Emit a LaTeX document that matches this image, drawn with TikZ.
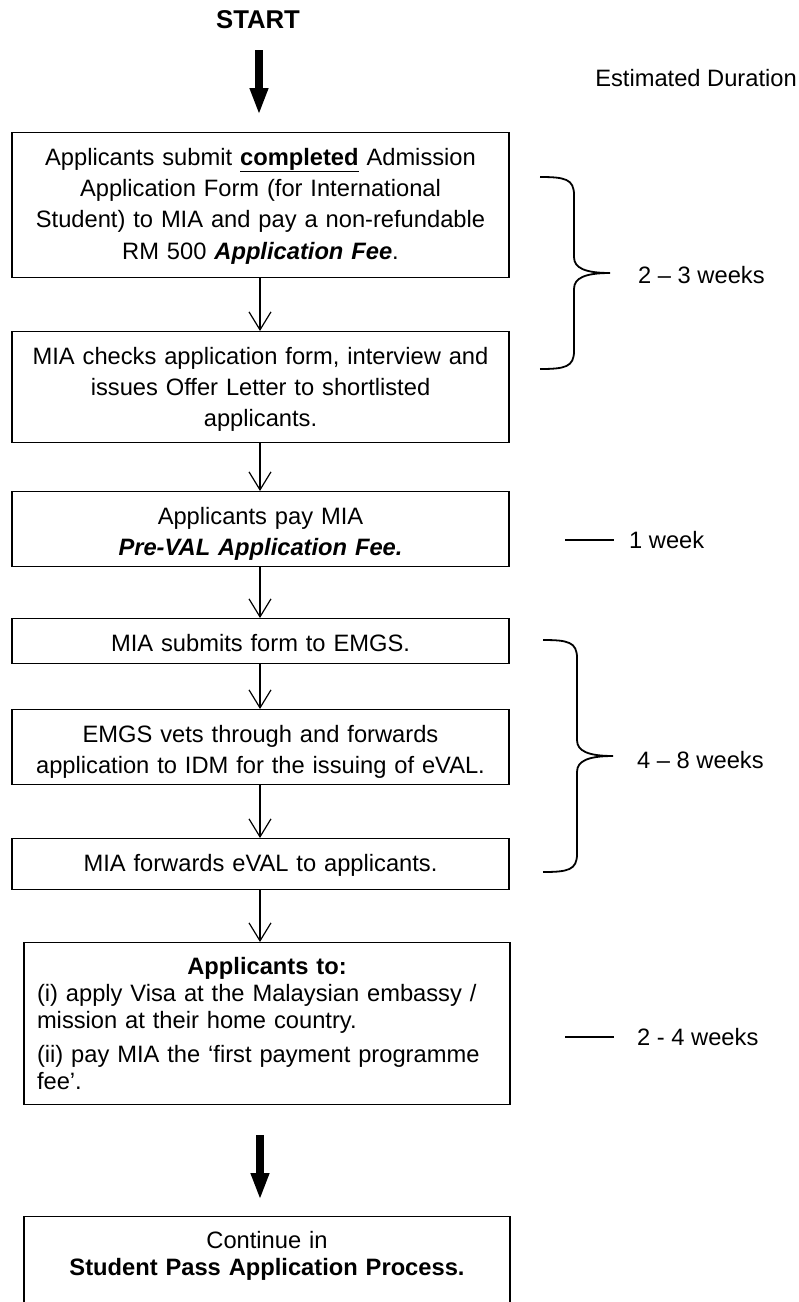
\documentclass[tikz,border=0pt]{standalone}
\usepackage{fontspec}
\setmainfont{Liberation Sans}
\usetikzlibrary{arrows.meta}
\begin{document}
\begin{tikzpicture}[x=1pt,y=-1pt,
  every node/.style={font=\fontsize{23.7}{27.3}\selectfont, inner sep=0pt},
  box/.style={draw, line width=1.2pt, anchor=north, align=center, text width=460pt, inner xsep=18.5pt, inner ysep=0pt, text height=32.5pt, font=\fontsize{23.7}{31.3}\selectfont},
  narrowbox/.style={box, inner xsep=13pt, text height=31.5pt, font=\fontsize{23.7}{27.3}\selectfont},
  flow/.style={line width=1.2pt, -{Straight Barb[length=18pt,width=22pt]}},
  bigflow/.style={line width=7.5pt, -{Triangle[length=27pt,width=17pt]}},
  brace/.style={line width=1.8pt},
  tick/.style={line width=1.3pt},
  dur/.style={anchor=west}
]
\clip (0,0) rectangle (799,1302);
\coordinate (ax) at (260,0);

\node[font=\fontsize{25.7}{30}\selectfont\bfseries] (start) at (258,20) {START};
\node[anchor=east] (est) at (797,78) {Estimated Duration};

\node[box, text depth=112.5pt] (b1) at (260.5,132) {Applicants submit \underline{\textbf{completed}} Admission\\ Application Form (for International\\ Student) to MIA and pay a non-refundable\\ RM 500 \textbf{\textit{Application Fee}}.};
\node[box, text depth=78.5pt] (b2) at (260.5,331) {MIA checks application form, interview and\\ issues Offer Letter to shortlisted\\ applicants.};
\node[box, text depth=42.5pt] (b3) at (260.5,491) {Applicants pay MIA\\ \textbf{\textit{Pre-VAL Application Fee.}}};
\node[box, text depth=12.5pt] (b4) at (260.5,618) {MIA submits form to EMGS.};
\node[box, text depth=42.5pt] (b5) at (260.5,709) {EMGS vets through and forwards\\ application to IDM for the issuing of eVAL.};
\node[box, text depth=18.5pt] (b6) at (260.5,838) {MIA forwards eVAL to applicants.};
\node[narrowbox, align=left, text depth=130.5pt] (b7) at (267,942) {\makebox[\linewidth][c]{\bfseries Applicants to:}\\
(i) apply Visa at the Malaysian embassy /\\
mission at their home country.\\[6pt]
(ii) pay MIA the ‘first payment programme\\
fee’.};
\node[narrowbox, text depth=88.5pt] (b8) at (267,1216) {Continue in\\ \textbf{Student Pass Application Process.}};

% connectors
\coordinate (t0a) at (259,50);
\coordinate (t0b) at (259,115);
\draw[bigflow] (t0a) -- (t0b);
\draw[flow] (b1.south -| ax) -- (b2.north -| ax);
\draw[flow] (b2.south -| ax) -- (b3.north -| ax);
\draw[flow] (b3.south -| ax) -- (b4.north -| ax);
\draw[flow] (b4.south -| ax) -- (b5.north -| ax);
\draw[flow] (b5.south -| ax) -- (b6.north -| ax);
\draw[flow] (b6.south -| ax) -- (b7.north -| ax);
\coordinate (t1a) at (260,1135);
\coordinate (t1b) at (260,1200);
\draw[bigflow] (t1a) -- (t1b);

% braces and durations
\draw[brace] (540,177) .. controls (565,177) and (574,179) .. (574,195) -- (574,257)
  .. controls (574,268) and (585,273) .. (610,273)
  .. controls (585,273) and (574,278) .. (574,289) -- (574,351)
  .. controls (574,367) and (565,369) .. (540,369);
\node[dur] (d1) at (638,275) {2 – 3 weeks};

\draw[tick] (565,540) -- (614,540);
\node[dur] (d2) at (629,540) {1 week};

\draw[brace] (543,640) .. controls (568,640) and (577,642) .. (577,658) -- (577,740)
  .. controls (577,751) and (588,756) .. (613,756)
  .. controls (588,756) and (577,761) .. (577,772) -- (577,854)
  .. controls (577,870) and (568,872) .. (543,872);
\node[dur] (d3) at (637,760) {4 – 8 weeks};

\draw[tick] (565,1037) -- (614,1037);
\node[dur] (d4) at (637,1037) {2 - 4 weeks};
\end{tikzpicture}
\end{document}
